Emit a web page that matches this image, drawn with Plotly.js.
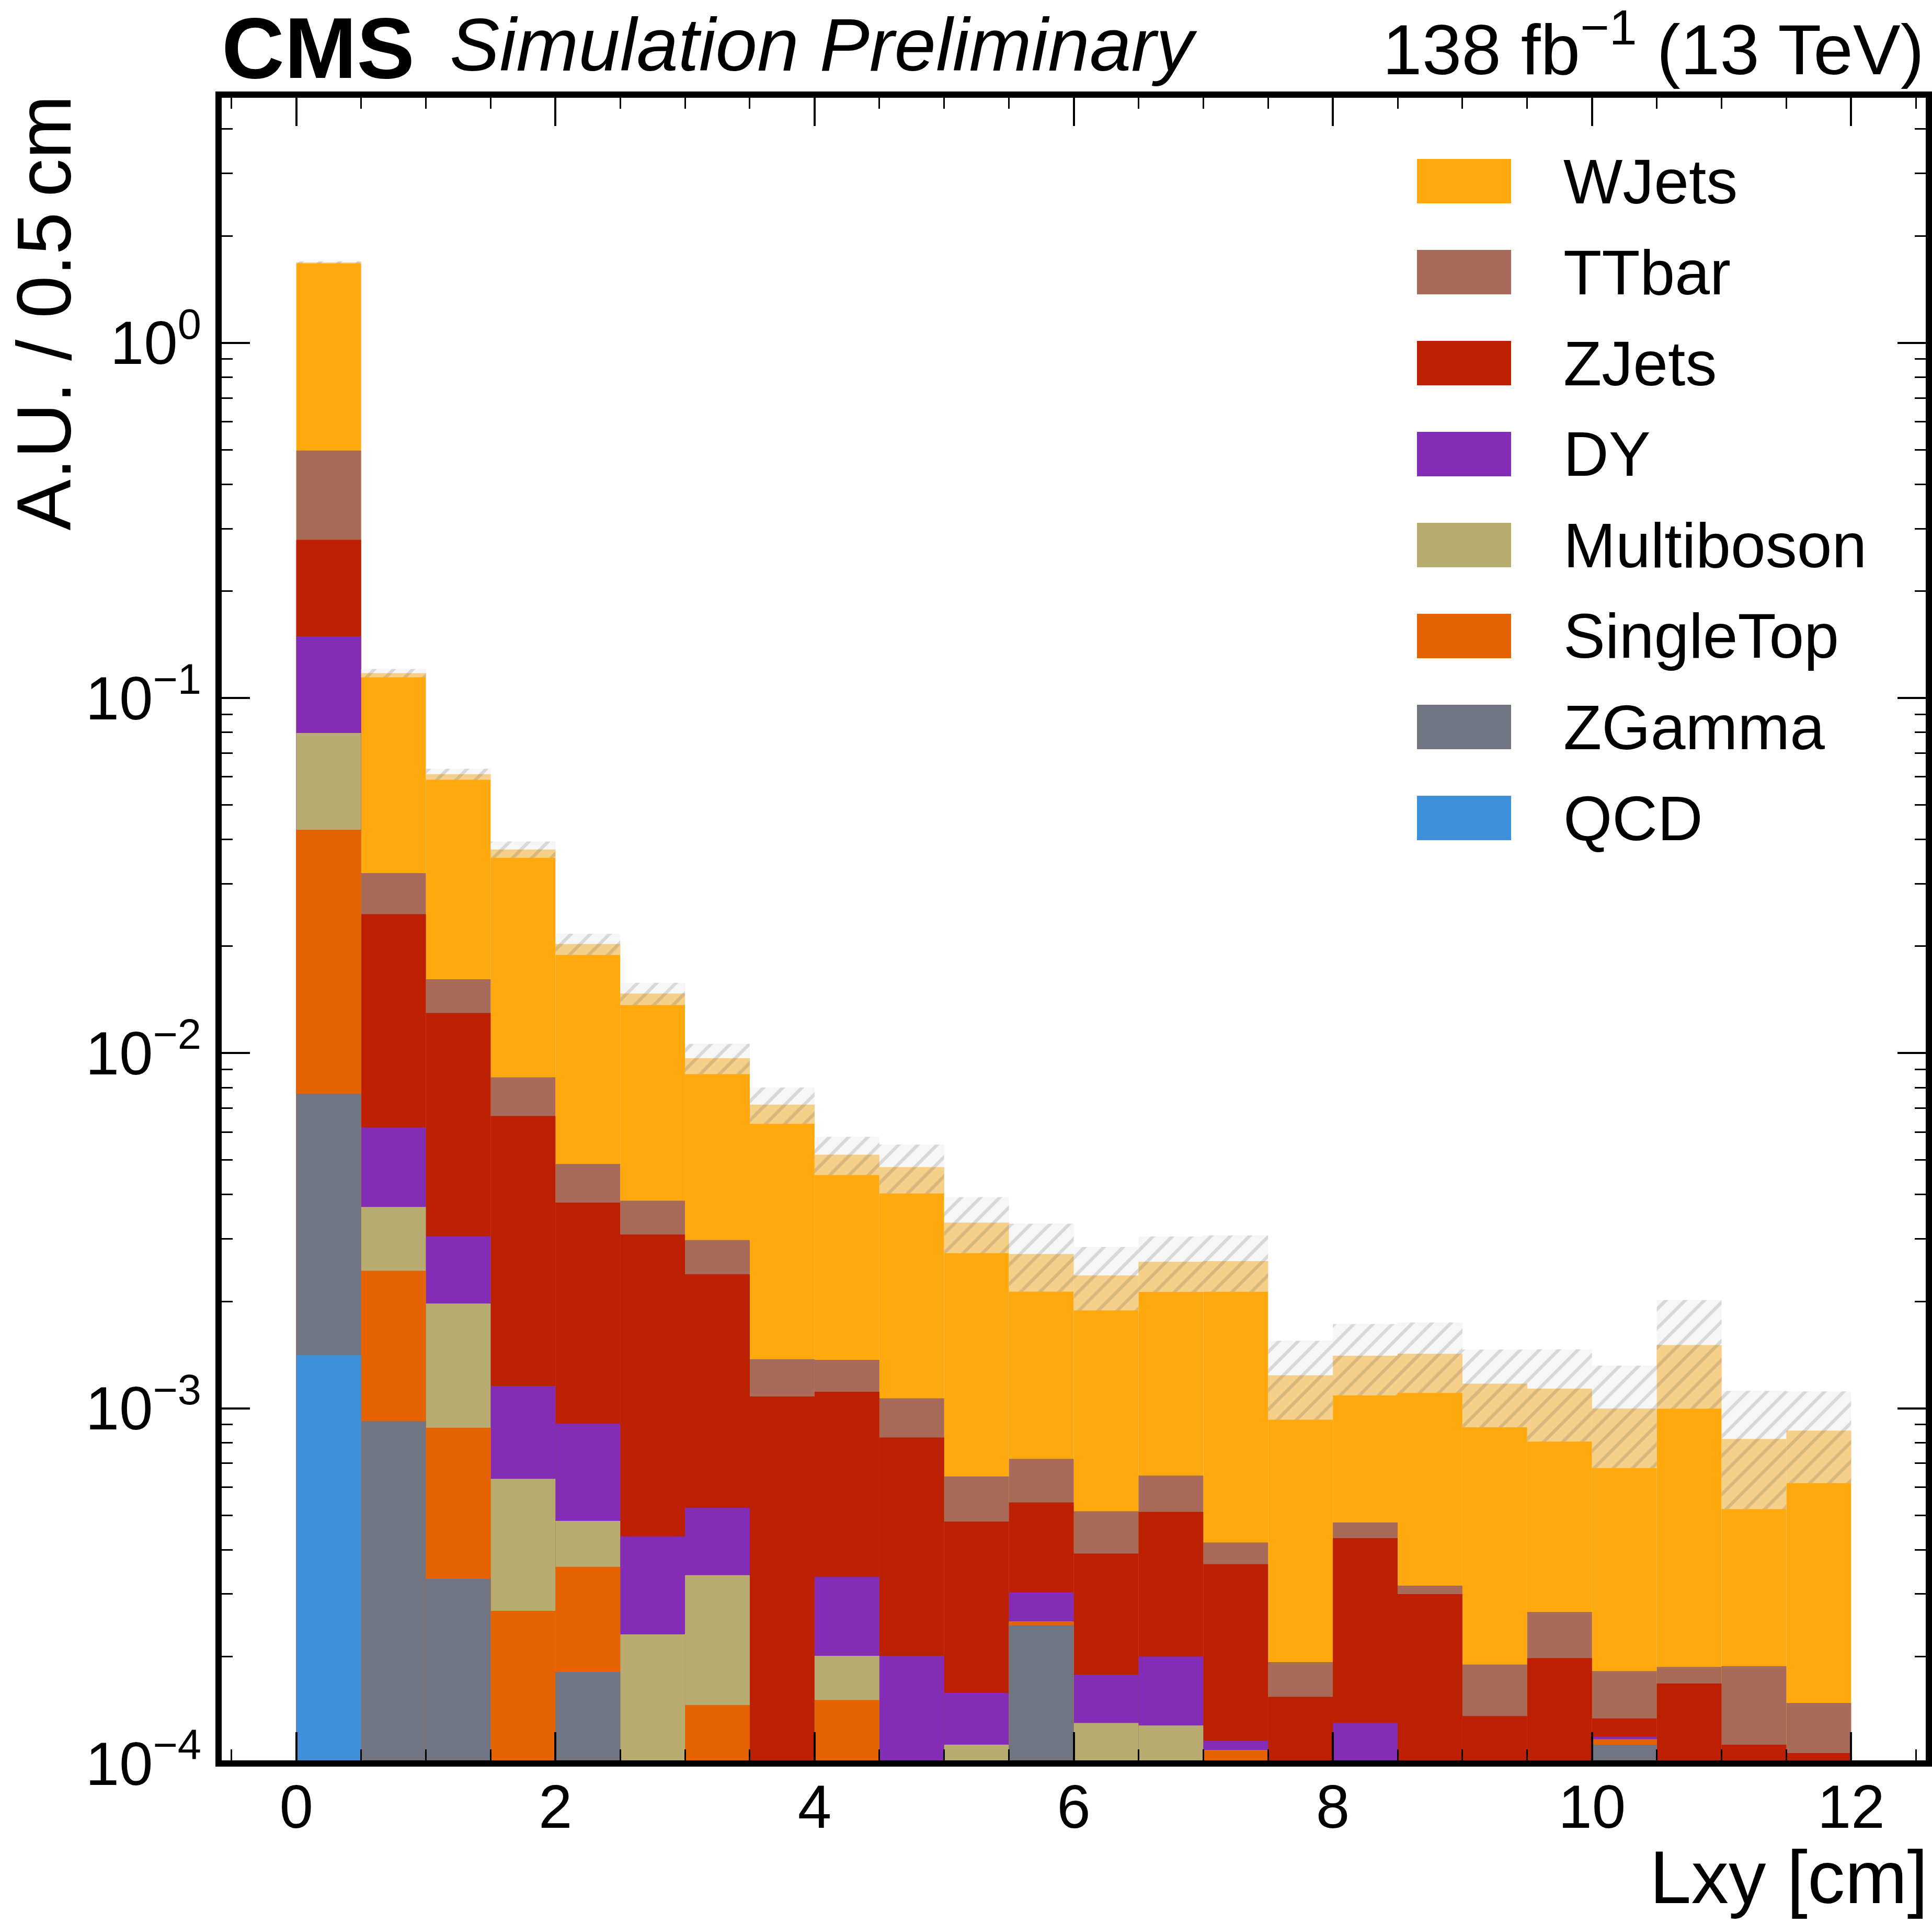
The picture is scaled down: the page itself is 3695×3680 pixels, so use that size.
<!DOCTYPE html>
<html>
<head>
<meta charset="utf-8">
<script src="https://cdn.plot.ly/plotly-3.0.1.min.js"></script>
<style>
  html, body { margin: 0; padding: 0; background: #fff; }
  #chart { width: 3695px; height: 3680px; }
</style>
</head>
<body>
<div id="chart"></div>
<script>
/* bins of 0.5 cm in Lxy */
const lxy = [0.25, 0.75, 1.25, 1.75, 2.25, 2.75, 3.25, 3.75, 4.25, 4.75, 5.25, 5.75,
             6.25, 6.75, 7.25, 7.75, 8.25, 8.75, 9.25, 9.75, 10.25, 10.75, 11.25, 11.75];

/* per-process content (A.U.), bottom of the stack first */
const qcd = [1.41e-3, 0, 0, 0, 0, 0, 0, 0, 0, 0, 0, 0,
             0, 0, 0, 0, 0, 0, 0, 0, 0, 0, 0, 0];
const zgamma = [6.27e-3, 9.2e-4, 3.31e-4, 0, 1.81e-4, 0, 0, 0, 0, 0, 0, 2.45e-4,
                0, 0, 0, 0, 0, 0, 0, 0, 1.13e-4, 0, 0, 0];
const singleTop = [3.49e-2, 1.52e-3, 5.51e-4, 2.69e-4, 1.77e-4, 0, 1.46e-4, 0, 1.51e-4, 0, 0, 6e-6,
                   0, 0, 1.09e-4, 0, 0, 0, 0, 0, 4e-6, 0, 0, 0];
const multiboson = [3.71e-2, 1.25e-3, 1.09e-3, 3.64e-4, 1.24e-4, 2.31e-4, 1.93e-4, 0, 5.0e-5, 0, 1.13e-4, 0,
                    1.30e-4, 1.28e-4, 0, 0, 0, 0, 0, 0, 0, 0, 0, 0];
const dy = [6.95e-2, 2.49e-3, 1.08e-3, 5.23e-4, 4.24e-4, 2.05e-4, 1.86e-4, 0, 1.34e-4, 2.01e-4, 4.5e-5, 5.2e-5,
            4.8e-5, 7.2e-5, 7e-6, 0, 1.30e-4, 0, 0, 0, 2e-6, 0, 0, 0];
const zjets = [0.1298, 1.844e-2, 9.93e-3, 5.50e-3, 2.89e-3, 2.65e-3, 1.86e-3, 1.08e-3, 7.78e-4, 6.27e-4, 3.22e-4, 2.40e-4,
               2.12e-4, 3.11e-4, 2.48e-4, 1.54e-4, 3.01e-4, 3.00e-4, 1.36e-4, 1.98e-4, 1.5e-5, 1.68e-4, 1.13e-4, 1.07e-4];
const ttbar = [0.2185, 7.53e-3, 3.17e-3, 1.90e-3, 1.08e-3, 7.59e-4, 5.93e-4, 2.95e-4, 2.56e-4, 2.39e-4, 1.63e-4, 1.78e-4,
               1.23e-4, 1.36e-4, 5.5e-5, 3.9e-5, 4.6e-5, 1.7e-5, 5.4e-5, 6.9e-5, 4.8e-5, 1.9e-5, 7.5e-5, 4.1e-5];
const wjets = [1.1875, 8.54e-2, 4.49e-2, 2.89e-2, 1.542e-2, 1.088e-2, 6.70e-3, 5.79e-3, 3.81e-3, 3.71e-3, 2.69e-3, 2.00e-3,
               1.855e-3, 1.94e-3, 2.18e-3, 1.046e-3, 9.30e-4, 1.108e-3, 9.84e-4, 8.69e-4, 8.17e-4, 1.321e-3, 6.32e-4, 7.18e-4];
/* MC stat. uncertainty on the total */
const mcUnc = [1.25e-2, 3.15e-3, 2.19e-3, 1.98e-3, 1.39e-3, 1.06e-3, 9.5e-4, 8.4e-4, 6.4e-4, 7.5e-4, 6.0e-4, 5.9e-4,
               4.8e-4, 4.6e-4, 4.7e-4, 3.1e-4, 3.2e-4, 3.2e-4, 2.9e-4, 3.3e-4, 3.2e-4, 5.1e-4, 3.0e-4, 2.5e-4];

const names = ["QCD", "ZGamma", "SingleTop", "Multiboson", "DY", "ZJets", "TTbar", "WJets"];
const series = [qcd, zgamma, singleTop, multiboson, dy, zjets, ttbar, wjets];
const colors = ["#3f90da", "#717581", "#e76300", "#b9ac70", "#832db6", "#bd1f01", "#a96b59", "#ffa90e"];

const yTickVals = [1e-4, 1e-3, 1e-2, 1e-1, 1];
const yTickText = ["10<sup>\u22124</sup>", "10<sup>\u22123</sup>", "10<sup>\u22122</sup>",
                   "10<sup>\u22121</sup>", "10<sup>0</sup>"];

const FONT = "Liberation Sans, Arial, Helvetica, sans-serif";
const W = 3695, H = 3680;
const M = { l: 418, r: 6, t: 181, b: 307 };
const plotW = W - M.l - M.r;
const plotH = H - M.t - M.b;
const px = (x) => (x - M.l) / plotW;
const py = (y) => 1 - (y - M.t) / plotH;

/* cumulative sums for the stack */
const cum = [];
let run = lxy.map(() => 0);
series.forEach((s) => {
  run = run.map((v, i) => v + s[i]);
  cum.push(run);
});
const total = cum[cum.length - 1];

/* draw top of stack first so lower pieces cover it */
const traces = [];
for (let k = series.length - 1; k >= 0; k--) {
  traces.push({
    type: "bar",
    name: names[k],
    x: lxy,
    y: cum[k],
    width: 0.5,
    marker: { color: colors[k], line: { width: 0 } },
    showlegend: false,
    hoverinfo: "skip",
  });
}

traces.push({
  type: "bar",
  name: "MC stat. unc.",
  x: lxy,
  base: total.map((v, i) => v - mcUnc[i]),
  y: mcUnc.map((e) => 2 * e),
  width: 0.5,
  marker: {
    color: "rgba(238,238,238,0.55)",
    line: { width: 0 },
    pattern: {
      shape: "/",
      fillmode: "overlay",
      bgcolor: "rgba(238,238,238,0.55)",
      fgcolor: "rgba(80,80,80,0.36)",
      size: 26,
      solidity: 0.24,
    },
  },
  showlegend: false,
  hoverinfo: "skip",
});

/* minor ticks on the log axis: 2..9 in every decade */
const minorY = [];
for (let d = -4; d <= 0; d++) {
  for (let m = 2; m <= 9; m++) minorY.push(m * Math.pow(10, d));
}

/* hand-made legend, top entry = top of stack */
const shapes = [{
  type: "rect", xref: "paper", yref: "paper", x0: 0, x1: 1, y0: 0, y1: 1,
  line: { color: "#000", width: 12 }, layer: "above",
}];
const annotations = [];
const legendOrder = names.slice().reverse();
const legendColors = colors.slice().reverse();
legendOrder.forEach((n, i) => {
  const cy = 346.5 + i * 174;
  shapes.push({
    type: "rect", xref: "paper", yref: "paper",
    x0: px(2710), x1: px(2890), y0: py(cy + 42.5), y1: py(cy - 42.5),
    fillcolor: legendColors[i], line: { width: 0 }, layer: "above",
  });
  annotations.push({
    xref: "paper", yref: "paper", x: px(2988), y: py(cy),
    xanchor: "left", yanchor: "middle", showarrow: false,
    text: n, font: { family: FONT, size: 120, color: "#000" },
  });
});

annotations.push(
  {
    xref: "paper", yref: "paper", x: px(422), y: 1, yshift: -5,
    xanchor: "left", yanchor: "bottom", showarrow: false,
    text: "<b>CMS</b>", font: { family: FONT, size: 166, color: "#000" },
  },
  {
    xref: "paper", yref: "paper", x: px(858), y: 1, yshift: 14,
    xanchor: "left", yanchor: "bottom", showarrow: false,
    text: "<i>Simulation Preliminary</i>", font: { family: FONT, size: 143, color: "#000" },
  },
  {
    xref: "paper", yref: "paper", x: px(3682), y: 1, yshift: 8,
    xanchor: "right", yanchor: "bottom", showarrow: false,
    text: "138 fb<sup>\u22121</sup> (13 TeV)", font: { family: FONT, size: 136, color: "#000" },
  },
  {
    xref: "paper", yref: "paper", x: px(0), y: 1,
    xanchor: "left", yanchor: "top", showarrow: false, textangle: -90,
    text: "A.U. / 0.5\u2009cm", font: { family: FONT, size: 146, color: "#000" },
  },
  {
    xref: "paper", yref: "paper", x: 1, y: 0, yshift: -136,
    xanchor: "right", yanchor: "top", showarrow: false,
    text: "Lxy [cm]", font: { family: FONT, size: 143, color: "#000" },
  }
);

const layout = {
  width: W,
  height: H,
  margin: M,
  paper_bgcolor: "#fff",
  plot_bgcolor: "#fff",
  barmode: "overlay",
  showlegend: false,
  font: { family: FONT, color: "#000" },
  xaxis: {
    range: [-0.6, 12.6],
    showgrid: false,
    zeroline: false,
    showline: false,
    tickmode: "linear",
    tick0: 0,
    dtick: 2,
    ticks: "inside",
    ticklen: 60,
    tickwidth: 4,
    tickcolor: "#000",
    mirror: "allticks",
    tickfont: { family: FONT, size: 116, color: "#000" },
    ticklabelstandoff: 6,
    minor: { ticks: "inside", tick0: 0, dtick: 0.5, ticklen: 27, tickwidth: 3, tickcolor: "#000", showgrid: false },
  },
  yaxis: {
    type: "log",
    range: [-4, Math.log10(5)],
    showgrid: false,
    zeroline: false,
    showline: false,
    tickmode: "array",
    tickvals: yTickVals,
    ticktext: yTickText,
    ticks: "inside",
    ticklen: 60,
    tickwidth: 4,
    tickcolor: "#000",
    mirror: "allticks",
    tickfont: { family: FONT, size: 116, color: "#000" },
    ticklabelstandoff: 32,
    minor: { ticks: "inside", tickmode: "array", tickvals: minorY, ticklen: 27, tickwidth: 3, tickcolor: "#000", showgrid: false },
  },
  shapes: shapes,
  annotations: annotations,
};

Plotly.newPlot("chart", traces, layout, { staticPlot: true });
</script>
</body>
</html>
